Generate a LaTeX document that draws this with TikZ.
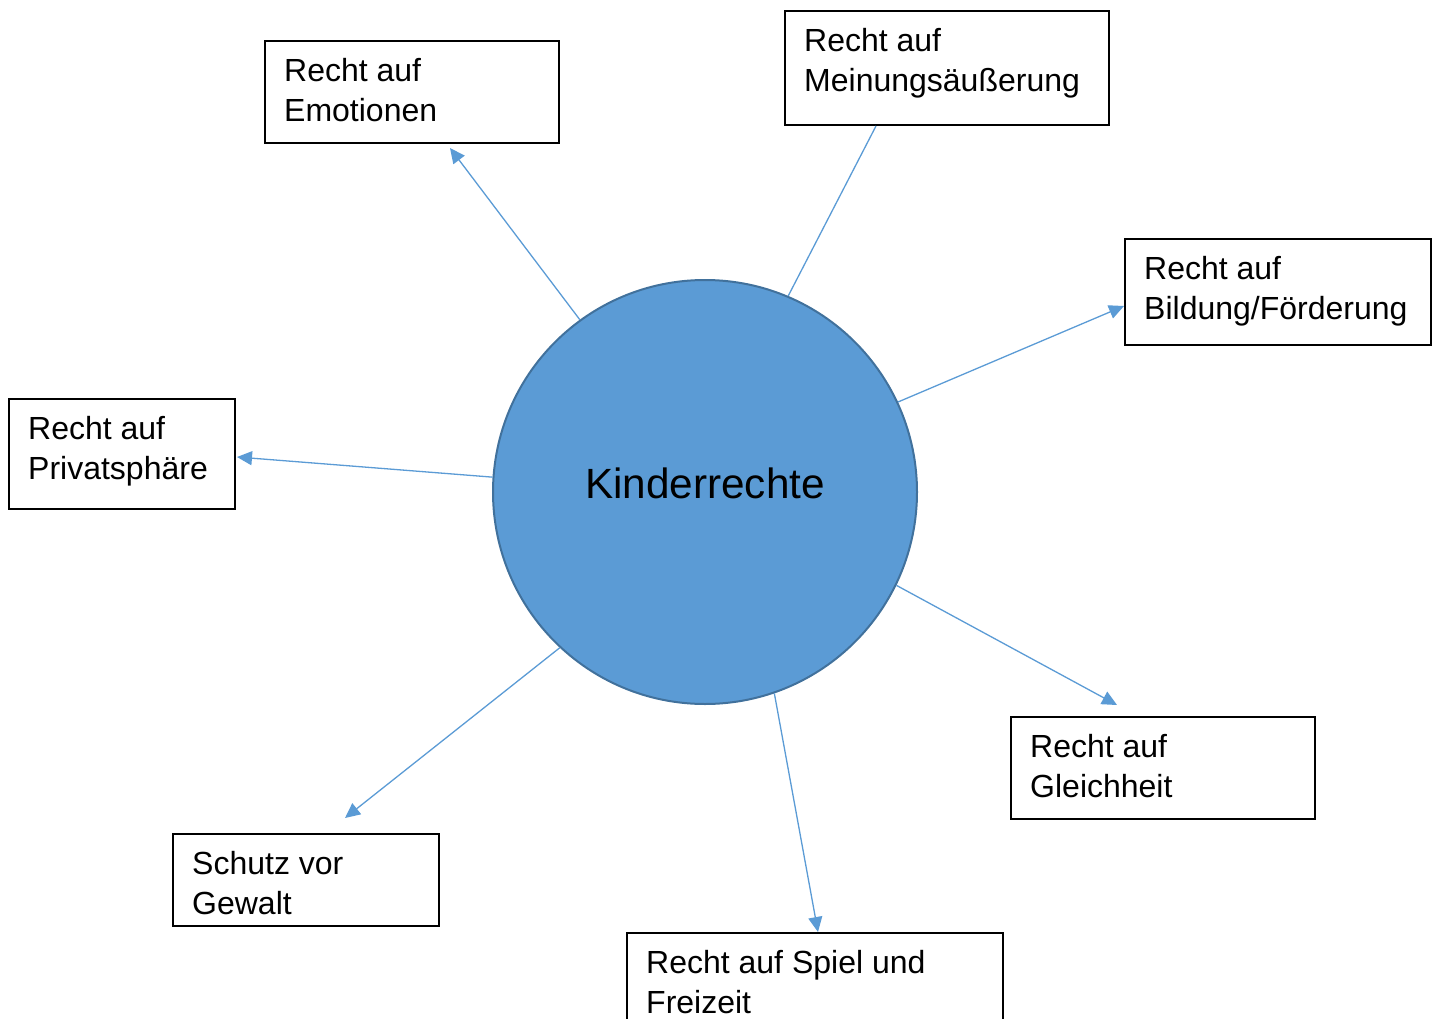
\documentclass[tikz,border=0pt]{standalone}
\usepackage{fontspec}
\setmainfont{Liberation Sans}
\usetikzlibrary{arrows.meta}
\definecolor{kblue}{HTML}{5B9BD5}
\definecolor{kedge}{HTML}{41719C}
\tikzstyle{kasten}=[draw,line width=2pt,inner sep=0pt,anchor=north west]
\tikzstyle{texto}=[inner sep=0pt,anchor=north west,align=left,font=\fontsize{32}{40.5}\selectfont]
\tikzstyle{linie}=[kblue,line width=1.3pt]
\tikzstyle{pfeil}=[linie,-{Triangle[length=15pt,width=14pt]}]

\begin{document}
\begin{tikzpicture}[x=1pt,y=-1pt]
    \useasboundingbox (0,0) rectangle (1437,1019);
    \clip (0,0) rectangle (1437,1019);
    % Mitte
    \node [circle,fill=kblue,draw=kedge,line width=2pt,minimum size=424pt,inner sep=0pt] (kr) at (705,492) {};
    \node [inner sep=0pt,font=\fontsize{42.3}{50}\selectfont] (krt) at (705,483) {Kinderrechte};
    % Kaesten
    \node [kasten,minimum width=294pt,minimum height=102pt] (emo) at (264,40) {};
    \node [texto] (emot) at ([xshift=20pt,yshift=-18pt]emo.north west) {Recht auf\\Emotionen};
    \node [kasten,minimum width=324pt,minimum height=114pt] (mei) at (784,10) {};
    \node [texto] (meit) at ([xshift=20pt,yshift=-18pt]mei.north west) {Recht auf\\Meinungsäußerung};
    \node [kasten,minimum width=306pt,minimum height=106pt] (bil) at (1124,238) {};
    \node [texto] (bilt) at ([xshift=20pt,yshift=-18pt]bil.north west) {Recht auf\\Bildung/Förderung};
    \node [kasten,minimum width=226pt,minimum height=110pt] (pri) at (8,398) {};
    \node [texto] (prit) at ([xshift=20pt,yshift=-18pt]pri.north west) {Recht auf\\Privatsphäre};
    \node [kasten,minimum width=304pt,minimum height=102pt] (gle) at (1010,716) {};
    \node [texto] (glet) at ([xshift=20pt,yshift=-18pt]gle.north west) {Recht auf\\Gleichheit};
    \node [kasten,minimum width=266pt,minimum height=92pt] (sch) at (172,833) {};
    \node [texto] (scht) at ([xshift=20pt,yshift=-18pt]sch.north west) {Schutz vor\\Gewalt};
    \node [kasten,minimum width=376pt,minimum height=110pt] (spi) at (626,932) {};
    \node [texto] (spit) at ([xshift=20pt,yshift=-18pt]spi.north west) {Recht auf Spiel und\\Freizeit};
    % Pfeile
    \draw [pfeil] (kr.126.8) -- ([xshift=186pt,yshift=-4pt]emo.south west);
    \draw [linie] (kr.67.4) -- ([xshift=92pt]mei.south west);
    \draw [pfeil] (kr.25) -- ([yshift=-14pt]bil.west);
    \draw [pfeil] (kr.176.3) -- ([xshift=1pt,yshift=-3pt]pri.east);
    \draw [pfeil] (kr.-26) -- ([xshift=107pt,yshift=11pt]gle.north west);
    \draw [pfeil] (kr.-71.8) -- ([xshift=192pt]spi.north west);
    \draw [pfeil] (kr.-133.1) -- ([xshift=173pt,yshift=15pt]sch.north west);
\end{tikzpicture}
\end{document}
